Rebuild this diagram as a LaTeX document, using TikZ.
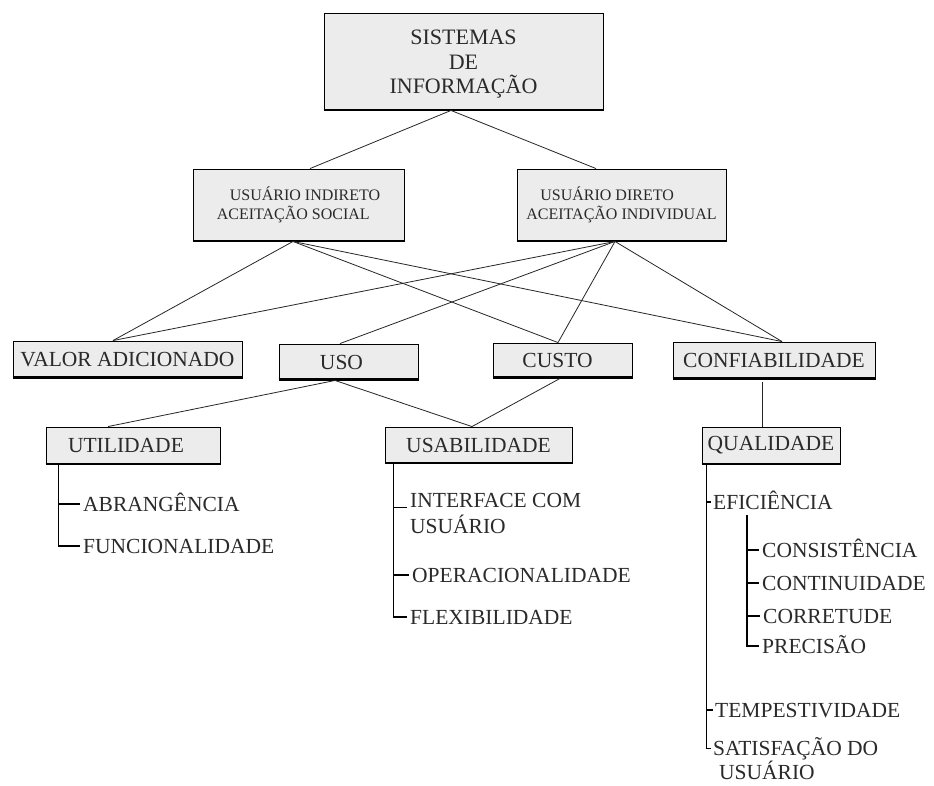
\documentclass[tikz,border=0pt]{standalone}
\usepackage{fontspec}
\setmainfont{Liberation Serif}
\definecolor{boxfill}{HTML}{ECECEC}
\definecolor{txt}{HTML}{2A2A2A}
\tikzset{
  box/.style={draw=black, line width=0.9pt, fill=boxfill, inner sep=0pt, text=txt, align=center},
  bigfont/.style={font=\fontsize{22}{24.5}\selectfont},
  midfont/.style={font=\fontsize{16}{19.5}\selectfont},
  rowfont/.style={font=\fontsize{21.5}{24}\selectfont},
  item/.style={anchor=base west, inner sep=0pt, text=txt, font=\fontsize{21.5}{26.5}\selectfont, align=left},
  conn/.style={line width=0.8pt, draw=black!85},
  stem/.style={line width=1.1pt, draw=black},
  shade/.style={line width=2.6pt, draw=black, line cap=butt},
}
\begin{document}
\begin{tikzpicture}[x=1pt,y=-1pt]
\useasboundingbox[fill=white] (0,0) rectangle (934,785);

% --- boxes ---
\node[box,bigfont,minimum width=279pt,minimum height=97pt] (si) at (463.5,61.5) {\rule{0pt}{20pt}SISTEMAS\\DE\\INFORMAÇÃO};
\node[box,midfont,minimum width=211pt,minimum height=72pt,align=left] (ind) at (298.5,205) {\hspace*{13pt}USUÁRIO INDIRETO\\ACEITAÇÃO SOCIAL};
\node[box,midfont,minimum width=209pt,minimum height=72pt,align=left] (dir) at (621.5,205) {\hspace*{14pt}USUÁRIO DIRETO\\ACEITAÇÃO INDIVIDUAL};

\node[box,rowfont,minimum width=229pt,minimum height=37pt] (va) at (127.5,359.5) {VALOR ADICIONADO};
\node[box,rowfont,minimum width=139pt,minimum height=36pt] (us) at (348.5,362) {\hspace*{-14pt}USO};
\node[box,rowfont,minimum width=139pt,minimum height=35pt] (cu) at (562.5,360.5) {\hspace*{-10pt}CUSTO};
\node[box,rowfont,minimum width=202pt,minimum height=37pt] (co) at (774,360.5) {CONFIABILIDADE};

\node[box,rowfont,minimum width=174pt,minimum height=37pt] (ut) at (133,445.5) {\hspace*{-14pt}UTILIDADE};
\node[box,rowfont,minimum width=187pt,minimum height=36pt] (ub) at (478.5,445) {USABILIDADE};
\node[box,rowfont,minimum width=138pt,minimum height=37pt] (ql) at (771,445.5) {QUALIDADE};

\foreach \n in {va,us,cu,co}
  \draw[shade] ([yshift=1.2pt]\n.south west) -- ([yshift=1.2pt]\n.south east);
\foreach \n in {si,ind,dir,ut,ub,ql}
  \draw[line width=1.6pt] ([yshift=0.4pt]\n.south west) -- ([yshift=0.4pt]\n.south east);

% --- connectors between boxes ---
\draw[conn] ([xshift=-12.5pt]si.south) -- ([xshift=11.5pt]ind.north);
\draw[conn] ([xshift=-12.5pt]si.south) -- ([xshift=-25.5pt]dir.north);

\draw[conn] ([xshift=-5.5pt]ind.south) -- ([xshift=-14.5pt]va.north);
\draw[conn] ([xshift=-5.5pt]ind.south) -- ([xshift=-4.5pt]cu.north);
\draw[conn] ([xshift=-5.5pt]ind.south) -- ([xshift=8pt]co.north);
\draw[conn] ([xshift=-6.5pt]dir.south) -- ([xshift=-14.5pt]va.north);
\draw[conn] ([xshift=-6.5pt]dir.south) -- ([xshift=-8.5pt]us.north);
\draw[conn] ([xshift=-6.5pt]dir.south) -- ([xshift=-4.5pt]cu.north);
\draw[conn] ([xshift=-6.5pt]dir.south) -- ([xshift=8pt]co.north);

\draw[conn] ([xshift=-13.5pt]us.south) -- ([xshift=-25pt]ut.north);
\draw[conn] ([xshift=-13.5pt]us.south) -- ([xshift=-6.5pt]ub.north);
\draw[conn] ([xshift=-2.5pt]cu.south) -- ([xshift=-6.5pt]ub.north);
\draw[conn] ([xshift=-12pt,yshift=-3pt]co.south) -- ([xshift=-9pt]ql.north);

% --- UTILIDADE list ---
\node[item] (abr) at (83,511.1) {ABRANGÊNCIA};
\node[item] (fun) at (83,553.1) {FUNCIONALIDADE};
\coordinate (utstem) at ([xshift=13pt]ut.south west);
\coordinate (abrT) at ([xshift=-3pt,yshift=7.1pt]abr.base west);
\coordinate (funT) at ([xshift=-3pt,yshift=7.1pt]fun.base west);
\draw[stem] (utstem) |- (funT);
\draw[stem] (abrT) -- (abrT -| utstem);

% --- USABILIDADE list ---
\node[item] (itf) at (410,533.6) {INTERFACE COM\\USUÁRIO};
\node[item] (ope) at (412,582.1) {OPERACIONALIDADE};
\node[item] (fle) at (410,624.1) {FLEXIBILIDADE};
\coordinate (ubstem) at ([xshift=9pt]ub.south west);
\coordinate (itfT) at ([xshift=-3pt,yshift=26.5pt]itf.base west);
\coordinate (opeT) at ([xshift=-3pt,yshift=7.1pt]ope.base west);
\coordinate (fleT) at ([xshift=-3pt,yshift=7.1pt]fle.base west);
\draw[stem] (ubstem) |- (fleT);
\draw[stem] (itfT) -- (itfT -| ubstem);
\draw[stem] (opeT) -- (opeT -| ubstem);

% --- QUALIDADE list ---
\node[item] (efi) at (713,509.1) {EFICIÊNCIA};
\node[item] (cns) at (762,557.1) {CONSISTÊNCIA};
\node[item] (cnt) at (762,590.1) {CONTINUIDADE};
\node[item] (cor) at (763,623.1) {CORRETUDE};
\node[item] (pre) at (762,653.1) {PRECISÃO};
\node[item] (tem) at (715,717.1) {TEMPESTIVIDADE};
\node[item,font=\fontsize{21.5}{24}\selectfont] (sat) at (713,779.5) {SATISFAÇÃO DO\\\hspace*{6pt}USUÁRIO};
\coordinate (qlstem) at ([xshift=5pt]ql.south west);
\coordinate (efiT) at ([xshift=-2pt,yshift=7.1pt]efi.base west);
\coordinate (temT) at ([xshift=-2pt,yshift=7.1pt]tem.base west);
\coordinate (satT) at ([xshift=-2pt,yshift=31.1pt]sat.base west);
\draw[stem] (qlstem) |- (satT);
\draw[stem] (efiT) -- (efiT -| qlstem);
\draw[stem] (temT) -- (temT -| qlstem);

\coordinate (efstem) at ([xshift=34pt,yshift=-6pt]efi.base west);
\coordinate (cnsT) at ([xshift=-3pt,yshift=7.1pt]cns.base west);
\coordinate (cntT) at ([xshift=-3pt,yshift=7.1pt]cnt.base west);
\coordinate (corT) at ([xshift=-3pt,yshift=7.1pt]cor.base west);
\coordinate (preT) at ([xshift=-3pt,yshift=7.1pt]pre.base west);
\draw[stem] (efstem) |- (preT);
\draw[stem] (cnsT) -- (cnsT -| efstem);
\draw[stem] (cntT) -- (cntT -| efstem);
\draw[stem] (corT) -- (corT -| efstem);
\end{tikzpicture}
\end{document}
